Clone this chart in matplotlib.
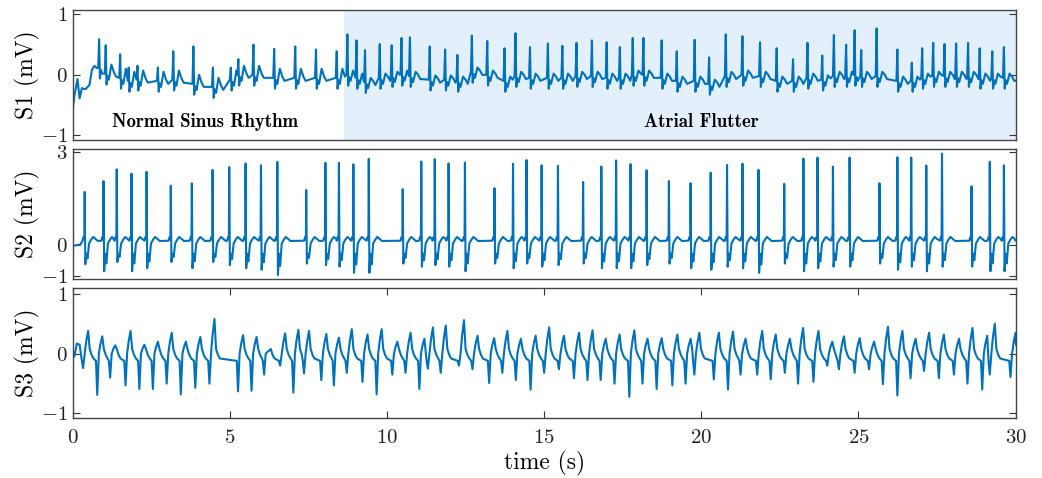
import numpy as np
import matplotlib.pyplot as plt

plt.rcParams['font.family'] = 'serif'
plt.rcParams['font.serif'] = ['cmr10']
plt.rcParams['mathtext.fontset'] = 'cm'
plt.rcParams['axes.formatter.use_mathtext'] = True

# ---- S1: spikes (time s, peak mV, local baseline mV)
s1_start_t = [0.0, 0.05, 0.15, 0.22, 0.29, 0.40, 0.53, 0.61, 0.69, 0.77]
s1_start_v = [-0.58, -0.36, -0.07, -0.39, -0.22, -0.24, -0.17, 0.08, 0.15, 0.11]

s1_nsr_t = [0.84, 1.05, 1.51, 1.78, 2.06, 2.71, 3.20, 3.84, 4.46, 5.03, 5.27,
            5.75, 6.41, 7.08, 7.74, 8.40]
s1_nsr_h = [0.59, 0.49, 0.34, 0.12, 0.15, 0.12, 0.39, 0.47, 0.12, 0.12, 0.26,
            0.50, 0.43, 0.47, 0.42, 0.39]
s1_nsr_b = [0.12, 0.02, -0.05, -0.10, -0.08, -0.10, -0.08, -0.15, -0.20, -0.08, 0.0,
            0.0, -0.05, -0.05, -0.05, -0.05]

s1_afl_t = [8.74, 9.03, 9.30, 9.77, 10.15, 10.46, 10.73, 11.36, 11.85, 12.24,
            12.70, 13.19, 13.74, 14.09, 14.55, 15.12, 15.58, 16.03, 16.52, 16.99,
            17.41, 17.82, 18.16, 18.74, 19.22, 19.79, 20.25, 20.78, 21.31, 21.87,
            22.40, 22.92, 23.38, 23.85, 24.22, 24.61, 24.88, 25.09, 25.58, 26.24,
            26.70, 27.03, 27.38, 27.74, 28.11, 28.49, 28.86, 29.26, 29.63]
s1_afl_h = [0.67, 0.57, 0.41, 0.51, 0.49, 0.61, 0.62, 0.47, 0.42, 0.33,
            0.65, 0.56, 0.44, 0.69, 0.46, 0.52, 0.48, 0.53, 0.57, 0.54,
            0.46, 0.61, 0.61, 0.57, 0.39, 0.58, 0.29, 0.67, 0.64, 0.54,
            0.44, 0.26, 0.53, 0.32, 0.66, 0.50, 0.74, 0.41, 0.77, 0.42,
            0.20, 0.44, 0.53, 0.51, 0.52, 0.53, 0.44, 0.39, 0.46]
s1_afl_b = [0.0, -0.05, -0.12, -0.05, -0.02, 0.0, -0.02, -0.08, -0.08, -0.10,
            0.05, 0.0, -0.10, -0.02, -0.05, -0.05, -0.05, -0.02, -0.02, -0.05,
            -0.05, 0.0, 0.0, -0.05, -0.10, -0.10, -0.15, -0.02, 0.0, -0.02,
            -0.10, -0.10, -0.05, -0.08, -0.02, -0.02, 0.0, -0.02, -0.02, -0.10,
            -0.10, -0.05, -0.02, -0.02, -0.02, -0.02, -0.05, -0.05, -0.05]

# ---- S2: R peaks (time s, R mV, S mV)
s2_r_t = [0.38, 0.98, 1.40, 1.87, 2.35, 3.12, 3.79, 4.45, 4.98, 5.50, 5.99, 6.51,
          7.43, 8.04, 8.47, 8.93, 9.42, 10.50, 11.09, 11.52, 11.96, 12.48, 13.42,
          14.01, 14.44, 14.92, 15.44, 16.24, 16.82, 17.29, 17.75, 18.26, 18.97,
          19.66, 20.30, 20.82, 21.31, 21.82, 22.64, 23.25, 23.70, 24.19, 24.72,
          25.67, 26.24, 26.68, 27.16, 27.66, 28.60, 29.18, 29.63]
s2_r_h = [1.72, 2.07, 2.45, 2.31, 2.37, 1.92, 2.00, 2.43, 2.52, 2.64, 2.58, 2.69,
          1.78, 2.66, 2.66, 2.61, 2.79, 1.81, 2.70, 2.78, 2.64, 2.67, 1.84,
          2.63, 2.75, 2.58, 2.56, 2.04, 2.54, 2.74, 2.62, 2.42, 2.07,
          2.00, 2.34, 2.59, 2.63, 2.43, 1.98, 2.80, 2.83, 2.54, 2.83,
          2.00, 2.84, 2.83, 2.57, 2.96, 1.90, 2.69, 2.58]
s2_s_v = [-0.62, -0.85, -0.55, -0.85, -0.75, -0.55, -0.75, -0.55, -0.65, -0.75, -0.80, -0.97,
          -0.60, -0.65, -0.70, -0.90, -0.90, -0.60, -0.70, -0.65, -0.70, -0.85, -0.60,
          -0.75, -0.60, -0.70, -0.65, -0.60, -0.75, -0.75, -0.75, -0.65, -0.60,
          -0.75, -0.80, -0.70, -0.75, -0.90, -0.60, -0.85, -0.75, -0.70, -0.70,
          -0.60, -0.80, -0.70, -0.85, -0.70, -0.70, -0.85, -0.85]

# ---- S3: troughs (time s, trough mV, following peak mV)
s3_tr_t = [0.33, 0.78, 1.19, 1.68, 2.12, 2.55, 2.99, 3.44, 3.90, 4.35, 5.26, 5.69,
           6.09, 6.60, 7.02, 7.36, 7.91, 8.31, 8.72, 9.22, 9.67, 10.17, 10.59, 11.03,
           11.30, 11.71, 12.29, 12.72, 13.25, 13.67, 14.10, 14.57, 15.00, 15.47, 15.95,
           16.38, 16.80, 17.24, 17.71, 18.13, 18.58, 19.08, 19.50, 19.78, 20.40, 20.85,
           21.25, 21.78, 22.21, 22.66, 23.08, 23.57, 24.01, 24.38, 24.88, 25.34, 25.78,
           26.24, 26.66, 27.09, 27.56, 28.04, 28.47, 28.94, 29.18, 29.84]
s3_tr_v = [-0.24, -0.69, -0.40, -0.53, -0.59, -0.59, -0.50, -0.68, -0.57, -0.50, -0.63, -0.62,
           -0.35, -0.20, -0.65, -0.33, -0.44, -0.53, -0.32, -0.47, -0.68, -0.35, -0.32, -0.59,
           -0.25, -0.32, -0.20, -0.26, -0.49, -0.32, -0.44, -0.60, -0.32, -0.26, -0.41,
           -0.44, -0.44, -0.50, -0.72, -0.50, -0.59, -0.53, -0.50, -0.35, -0.43, -0.60,
           -0.35, -0.35, -0.43, -0.32, -0.50, -0.47, -0.20, -0.26, -0.32, -0.26, -0.51,
           -0.70, -0.41, -0.29, -0.41, -0.35, -0.50, -0.60, -0.35, -0.39]
s3_pk_v = [0.38, 0.29, 0.14, 0.38, 0.15, 0.20, 0.35, 0.20, 0.28, 0.58, 0.31, 0.28,
           0.05, 0.34, 0.40, 0.38, 0.33, 0.27, 0.41, 0.32, 0.41, 0.20, 0.35, 0.25,
           0.44, 0.47, 0.56, 0.30, 0.26, 0.38, 0.25, 0.30, 0.44, 0.30, 0.35,
           0.39, 0.25, 0.32, 0.39, 0.25, 0.26, 0.32, 0.25, 0.35, 0.35, 0.37,
           0.25, 0.38, 0.32, 0.25, 0.43, 0.38, 0.20, 0.29, 0.26, 0.20, 0.45,
           0.38, 0.25, 0.35, 0.32, 0.25, 0.43, 0.30, 0.50, 0.35]

afl_start = 8.62
blue = '#0072BD'


def s1_trace():
    tt, vv = list(s1_start_t), list(s1_start_v)
    spikes = [(t, h, b, 0.15) for t, h, b in zip(s1_nsr_t, s1_nsr_h, s1_nsr_b)]
    spikes += [(t, h, b, 0.07) for t, h, b in zip(s1_afl_t, s1_afl_h, s1_afl_b)]
    for i, (t, h, b, tw) in enumerate(spikes):
        nxt = spikes[i + 1][0] if i + 1 < len(spikes) else 30.5
        for dt, v in [(-0.03, b), (0.0, h), (0.025, b - 0.18), (0.06, b - 0.04),
                      (0.1, b - 0.1), (0.18, b + tw), (0.26, b + 0.02), (0.33, b - 0.05)]:
            if dt <= 0 or t + dt < nxt - 0.04:
                tt.append(t + dt)
                vv.append(v)
    tt.append(30.0)
    vv.append(-0.1)
    return tt, vv


def s2_trace():
    tt, vv = [0.0, 0.25], [-0.03, 0.02]
    offs = [-0.07, -0.035, -0.012, 0.0, 0.02, 0.05, 0.09, 0.14, 0.21, 0.27, 0.34, 0.42]
    for i, (t, h, s) in enumerate(zip(s2_r_t, s2_r_h, s2_s_v)):
        nxt = s2_r_t[i + 1] if i + 1 < len(s2_r_t) else 30.5
        vals = [0.14, 0.26, 0.18, h, s, -0.28, 0.7 * s, 0.05, 0.18, 0.26, 0.2, 0.13]
        for dt, v in zip(offs, vals):
            if dt <= 0 or t + dt < nxt - 0.08:
                tt.append(t + dt)
                vv.append(v)
    tt.append(30.0)
    vv.append(0.15)
    return tt, vv


def s3_trace():
    tt, vv = [0.0, 0.05, 0.13, 0.22], [0.0, -0.05, 0.17, 0.15]
    offs = [-0.04, 0.0, 0.05, 0.1, 0.16, 0.21, 0.27, 0.33]
    for i, (t, d, p) in enumerate(zip(s3_tr_t, s3_tr_v, s3_pk_v)):
        nxt = s3_tr_t[i + 1] if i + 1 < len(s3_tr_t) else 30.5
        vals = [-0.12, d, 0.0, 0.55 * p, p, 0.08, -0.02, -0.08]
        for dt, v in zip(offs, vals):
            if dt <= 0 or t + dt < nxt - 0.06:
                tt.append(t + dt)
                vv.append(v)
    tt.append(30.0)
    vv.append(0.2)
    return tt, vv


fig = plt.figure(figsize=(10.42, 4.78), dpi=100)
left, width, height = 0.0698, 0.9048, 0.2715
ax1 = fig.add_axes([left, 0.7071, width, height])
ax2 = fig.add_axes([left, 0.4163, width, height])
ax3 = fig.add_axes([left, 0.1262, width, height])

for ax, (tt, vv), lab, yl, yt in [
        (ax1, s1_trace(), 'S1 (mV)', (-1.08, 1.07), [-1, 0, 1]),
        (ax2, s2_trace(), 'S2 (mV)', (-1.1, 3.1), [-1, 0, 3]),
        (ax3, s3_trace(), 'S3 (mV)', (-1.07, 1.1), [-1, 0, 1])]:
    ax.plot(tt, vv, color=blue, lw=1.5)
    ax.set_xlim(0, 30)
    ax.set_ylim(*yl)
    ax.set_yticks(yt)
    ax.set_ylabel(lab, fontsize=17, labelpad=1)
    ax.tick_params(direction='in', length=5, width=0.8, labelsize=15,
                   right=True, top=True, colors='#333333', labelcolor='#222222')
    for sp in ax.spines.values():
        sp.set_color('#444444')
        sp.set_linewidth(1.0)

ax1.axvspan(afl_start, 30, color='#E3F0FC', zorder=0, lw=0)
ax1.text(4.21, -0.78, 'Normal Sinus Rhythm', ha='center', va='center',
         fontsize=13.5, family='cmb10')
ax1.text(20.0, -0.78, 'Atrial Flutter', ha='center', va='center',
         fontsize=13.5, family='cmb10')

ax1.set_xticks([])
ax2.set_xticks([])
ax3.set_xticks([0, 5, 10, 15, 20, 25, 30])
ax3.tick_params(axis='x', pad=8)
ax3.set_xlabel('time (s)', fontsize=17, labelpad=3)

fig.savefig('out.png', dpi=100)
